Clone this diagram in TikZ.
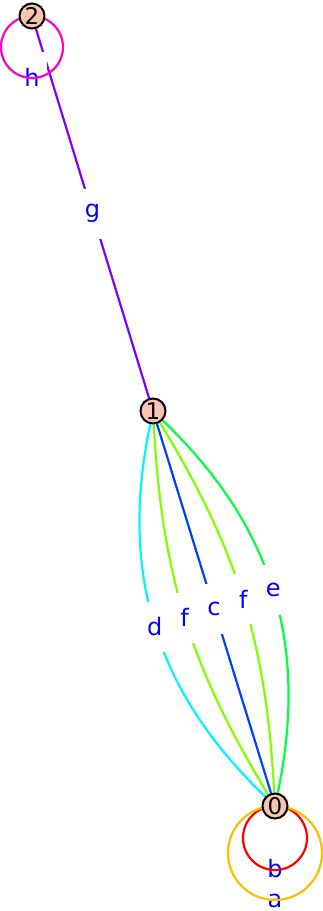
\documentclass[tikz,border=0pt]{standalone}
\usepackage{fontspec}
\setmainfont{DejaVu Sans}
\usepackage{tikz}
\usetikzlibrary{shapes}
\usetikzlibrary{arrows}
\pgfdeclarelayer{edgelayer}
\pgfsetlayers{edgelayer,main}
\definecolor{vtxfill}{RGB}{250,195,178}
\definecolor{lblblue}{RGB}{0,0,255}
\definecolor{colg}{RGB}{128,0,255}
\definecolor{colh}{RGB}{255,0,200}
\definecolor{cold}{RGB}{0,245,255}
\definecolor{colf}{RGB}{128,255,0}
\definecolor{colc}{RGB}{0,64,255}
\definecolor{cole}{RGB}{0,255,64}
\definecolor{colb}{RGB}{255,0,0}
\definecolor{cola}{RGB}{255,190,0}

\begin{document}
\begin{tikzpicture}[x=1pt,y=-1pt]
  
  \tikzset{vertex/.style = {shape=circle,draw,line width=2pt,fill=vtxfill,minimum size=25pt,inner sep=0pt,font=\fontsize{23}{23}\selectfont}}
  \tikzset{edge/.style = {line width=2.2pt}}
  \tikzset{elabel/.style = {fill=white,text=lblblue,inner sep=0pt,minimum width=30pt,minimum height=50pt,font=\fontsize{24}{24}\selectfont}}
  \useasboundingbox (0,0) rectangle (323,911);
  % vertices
  \node[vertex] (v0) at (275,806) {0};
  \node[vertex] (v1) at (153,411) {1};
  \node[vertex] (v2) at (32,16)   {2};
  \begin{pgfonlayer}{edgelayer}
  %edges
  \draw[edge,colg] (v2) -- node[elabel] {g} (v1);
  \draw[edge,cold] (v1) to[bend right=29] node[elabel] {d} (v0);
  \draw[edge,colf] (v1) to[bend right=14] node[elabel] {f} (v0);
  \draw[edge,colc] (v1) -- node[elabel] {c} (v0);
  \draw[edge,colf] (v1) to[bend left=14] node[elabel] {f} (v0);
  \draw[edge,cole] (v1) to[bend left=29] node[elabel] {e} (v0);
  %loops
  \node[elabel] (lh) at (32,77)  {h};
  \node[elabel] (la) at (275,901) {a};
  \node[elabel,minimum height=44pt] (lb) at (275,869) {b};
  \draw[edge,colh] (v2.center) arc[start angle=90,delta angle=360,radius=31pt];
  \draw[edge,colb] (v0.center) arc[start angle=90,delta angle=360,radius=32pt];
  \draw[edge,cola] (v0.center) arc[start angle=90,delta angle=360,radius=47pt];
  \end{pgfonlayer}
  \end{tikzpicture}
\end{document}
